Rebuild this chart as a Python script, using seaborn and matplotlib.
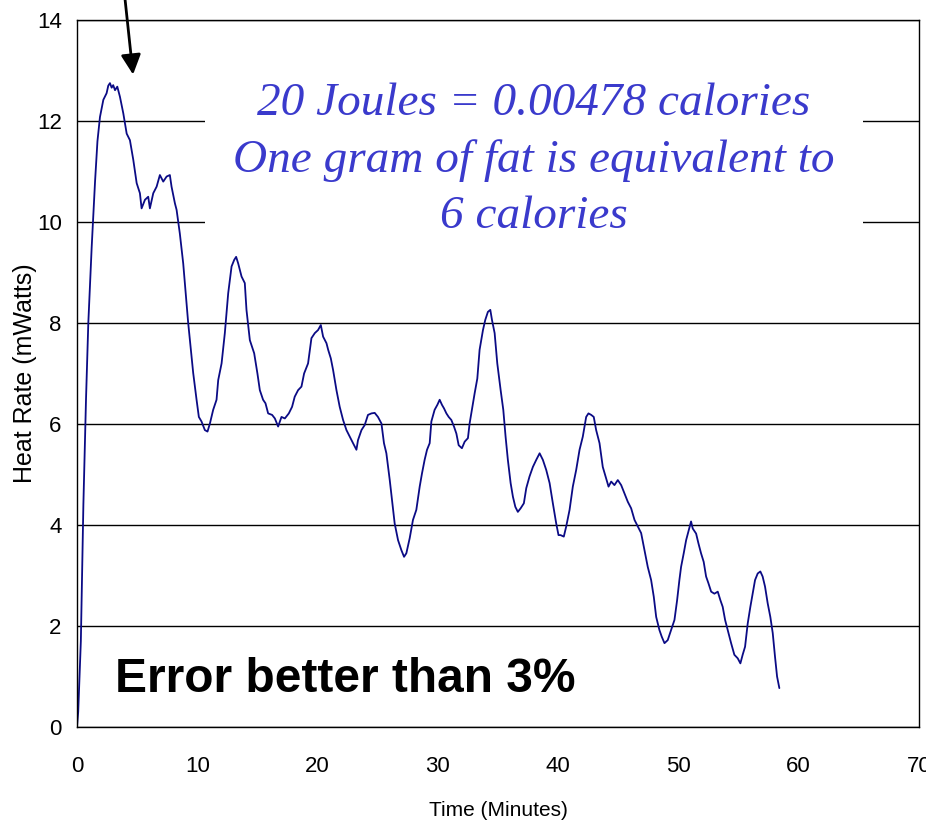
import matplotlib
matplotlib.use("Agg")
import matplotlib.pyplot as plt
import seaborn as sns

# Heat rate trace (minutes, mWatts)
minutes = [
    0.0, 0.1, 0.32, 0.53, 0.75, 0.94, 1.22, 1.5, 1.7, 1.91,
    2.19, 2.46, 2.6, 2.74, 2.88, 3.01, 3.16, 3.35, 3.57, 3.85,
    4.13, 4.4, 4.68, 4.96, 5.23, 5.37, 5.65, 5.92, 6.06, 6.34,
    6.62, 6.89, 7.17, 7.45, 7.72, 7.86, 8.14, 8.28, 8.55, 8.83,
    9.24, 9.66, 9.94, 10.13, 10.35, 10.63, 10.85, 11.05, 11.32, 11.6,
    11.74, 12.02, 12.29, 12.57, 12.85, 13.07, 13.23, 13.4, 13.68, 13.95,
    14.09, 14.37, 14.73, 15.0, 15.2, 15.47, 15.67, 15.89, 16.22, 16.45,
    16.72, 17.0, 17.28, 17.61, 17.88, 18.1, 18.38, 18.66, 18.88, 19.21,
    19.49, 19.77, 20.04, 20.27, 20.46, 20.74, 20.88, 21.1, 21.29, 21.57,
    21.84, 22.12, 22.4, 22.67, 22.95, 23.23, 23.36, 23.65, 23.92, 24.19,
    24.48, 24.75, 25.02, 25.31, 25.52, 25.72, 26.0, 26.19, 26.41, 26.69,
    26.97, 27.19, 27.38, 27.66, 27.93, 28.21, 28.49, 28.68, 28.9, 29.1,
    29.32, 29.46, 29.73, 29.96, 30.15, 30.34, 30.51, 30.71, 30.9, 31.12,
    31.34, 31.54, 31.73, 32.0, 32.23, 32.5, 32.64, 32.83, 33.06, 33.28,
    33.47, 33.75, 33.94, 34.16, 34.36, 34.5, 34.72, 34.94, 35.22, 35.44,
    35.63, 35.82, 36.05, 36.24, 36.44, 36.65, 36.88, 37.15, 37.35, 37.62,
    37.9, 38.18, 38.46, 38.73, 39.01, 39.29, 39.56, 39.84, 40.03, 40.2,
    40.47, 40.67, 40.95, 41.22, 41.5, 41.78, 42.05, 42.33, 42.52, 42.75,
    42.96, 43.16, 43.44, 43.71, 43.99, 44.19, 44.41, 44.68, 44.96, 45.24,
    45.51, 45.79, 46.07, 46.35, 46.62, 46.9, 47.18, 47.45, 47.73, 47.95,
    48.15, 48.42, 48.61, 48.84, 49.11, 49.39, 49.67, 49.89, 50.08, 50.22,
    50.44, 50.64, 50.83, 51.05, 51.19, 51.47, 51.66, 51.88, 52.1, 52.3,
    52.49, 52.72, 52.99, 53.27, 53.49, 53.68, 53.88, 54.1, 54.38, 54.65,
    54.93, 55.15, 55.34, 55.54, 55.76, 55.98, 56.17, 56.37, 56.59, 56.81,
    57.0, 57.2, 57.42, 57.64, 57.84, 58.03, 58.2, 58.39,
]

heat_mw = [
    0.0, 0.3, 1.7, 4.4, 6.5, 8.0, 9.5, 10.8, 11.6, 12.08,
    12.42, 12.55, 12.7, 12.75, 12.66, 12.71, 12.61, 12.68, 12.48, 12.15,
    11.75, 11.62, 11.23, 10.77, 10.57, 10.27, 10.44, 10.5, 10.27, 10.57,
    10.7, 10.93, 10.8, 10.9, 10.93, 10.7, 10.37, 10.24, 9.77, 9.18,
    8.01, 7.01, 6.48, 6.14, 6.05, 5.88, 5.85, 6.01, 6.28, 6.48,
    6.87, 7.2, 7.8, 8.59, 9.12, 9.25, 9.31, 9.18, 8.92, 8.79,
    8.26, 7.66, 7.4, 7.0, 6.67, 6.48, 6.41, 6.21, 6.18, 6.11,
    5.95, 6.14, 6.11, 6.21, 6.34, 6.54, 6.67, 6.74, 7.0, 7.2,
    7.7, 7.8, 7.86, 7.96, 7.73, 7.6, 7.47, 7.3, 7.07, 6.67,
    6.34, 6.08, 5.88, 5.75, 5.62, 5.49, 5.68, 5.88, 5.98, 6.18,
    6.21, 6.22, 6.14, 6.01, 5.62, 5.42, 4.89, 4.5, 4.03, 3.7,
    3.5, 3.37, 3.44, 3.74, 4.1, 4.3, 4.76, 5.02, 5.29, 5.49,
    5.62, 6.05, 6.28, 6.38, 6.48, 6.38, 6.31, 6.21, 6.14, 6.08,
    5.95, 5.81, 5.58, 5.52, 5.65, 5.72, 6.01, 6.28, 6.61, 6.9,
    7.47, 7.86, 8.06, 8.22, 8.26, 8.06, 7.8, 7.2, 6.67, 6.28,
    5.75, 5.29, 4.83, 4.56, 4.36, 4.26, 4.33, 4.43, 4.73, 4.96,
    5.15, 5.29, 5.42, 5.29, 5.09, 4.83, 4.43, 4.03, 3.8, 3.8,
    3.77, 3.97, 4.3, 4.76, 5.09, 5.49, 5.75, 6.14, 6.21, 6.18,
    6.14, 5.88, 5.62, 5.15, 4.92, 4.76, 4.86, 4.79, 4.89, 4.79,
    4.63, 4.46, 4.33, 4.1, 3.97, 3.84, 3.5, 3.17, 2.91, 2.58,
    2.18, 1.92, 1.79, 1.66, 1.72, 1.92, 2.12, 2.51, 2.91, 3.17,
    3.44, 3.7, 3.87, 4.07, 3.93, 3.83, 3.64, 3.44, 3.27, 2.98,
    2.85, 2.68, 2.64, 2.68, 2.51, 2.38, 2.12, 1.92, 1.66, 1.43,
    1.36, 1.26, 1.43, 1.59, 2.05, 2.38, 2.64, 2.91, 3.04, 3.08,
    2.98, 2.78, 2.45, 2.18, 1.86, 1.39, 1.0, 0.77,
]

x_ticks = [0, 10, 20, 30, 40, 50, 60, 70]
y_ticks = [0, 2, 4, 6, 8, 10, 12, 14]

note_text = "20 Joules = 0.00478 calories\nOne gram of fat is equivalent to\n6 calories"
error_text = "Error better than 3%"

assert len(minutes) == len(heat_mw)

LINE_COLOR = "#0b0b85"
NOTE_COLOR = "#3a3acc"

sns.set_style("white")
plt.rcParams["font.family"] = ["Liberation Sans", "DejaVu Sans"]

fig = plt.figure(figsize=(9.26, 8.22), dpi=100)
ax = fig.add_axes([77 / 926, 1 - 727 / 822, (919 - 77) / 926, (727 - 20) / 822])

sns.lineplot(x=minutes, y=heat_mw, color=LINE_COLOR, linewidth=1.3,
             estimator=None, sort=False, ax=ax)

ax.set_xlim(0, 70)
ax.set_ylim(0, 14)
ax.set_xticks(x_ticks)
ax.set_yticks(y_ticks)
ax.yaxis.grid(True, color="black", linewidth=1.0)
ax.xaxis.grid(False)
ax.set_axisbelow(True)
for s in ax.spines.values():
    s.set_color("black")
    s.set_linewidth(1.0)

ax.tick_params(axis="x", direction="out", length=7, width=1, pad=14,
               labelsize=16, colors="black")
ax.tick_params(axis="y", direction="out", length=5, width=1, pad=6,
               labelsize=16, colors="black")

ax.set_xlabel("Time (Minutes)", fontsize=15, color="black")
ax.set_ylabel("Heat Rate (mWatts)", fontsize=18, color="black")
ax.xaxis.set_label_coords(0.5, -0.104)
ax.yaxis.set_label_coords(-0.047, 0.5)

# white box behind the note hides the gridlines (but sits under the trace)
ax.text(37.96, 11.22, note_text, ha="center", va="center", ma="center",
        fontsize=34, fontstyle="italic", family=["Liberation Serif", "DejaVu Serif"],
        color=NOTE_COLOR, linespacing=1.42, zorder=1.5,
        bbox=dict(boxstyle="square,pad=0.6", fc="white", ec="none"))

ax.text(3.15, 0.69, error_text, ha="left", va="baseline", fontsize=34.5,
        fontweight="bold", color="black", zorder=3)

ax.annotate("", xy=(4.66, 12.92), xytext=(3.82, 14.8),
            arrowprops=dict(arrowstyle="-|>,head_length=0.8,head_width=0.4",
                            mutation_scale=15, color="black", lw=2,
                            shrinkA=0, shrinkB=0),
            annotation_clip=False)

fig.savefig("out.png", dpi=100)
